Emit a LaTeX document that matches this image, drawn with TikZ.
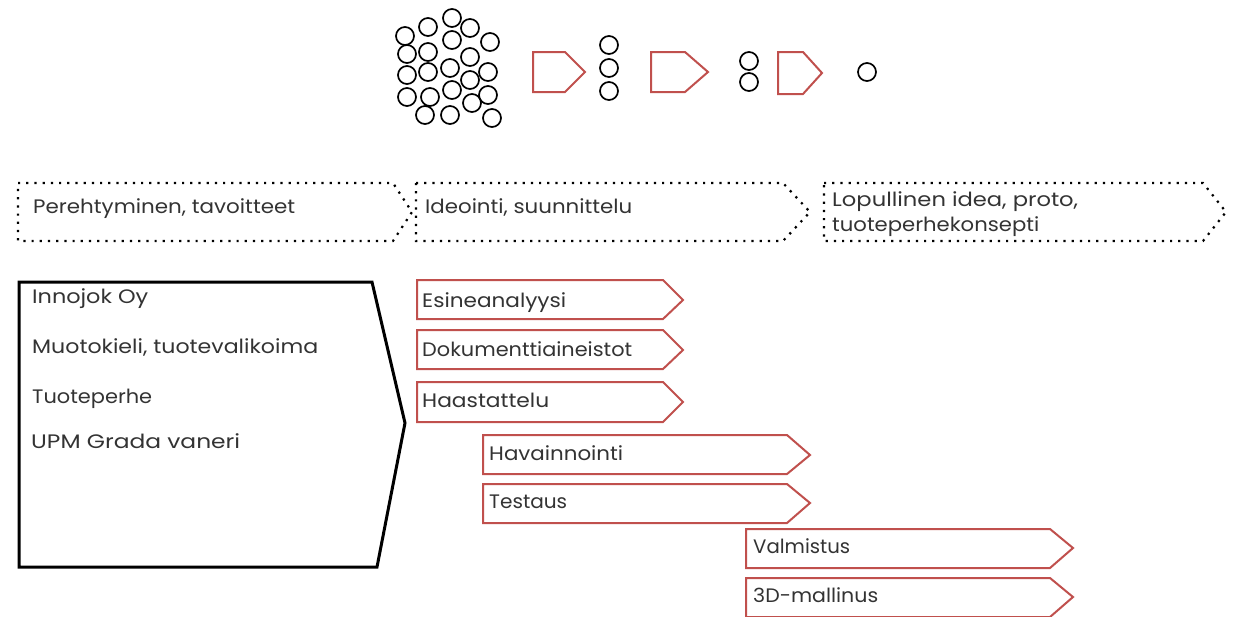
\documentclass[tikz,border=0pt]{standalone}
\usepackage{fontspec}
\usepackage{graphicx}
\setmainfont{Poppins}
\definecolor{txt}{HTML}{333333}
\definecolor{ored}{HTML}{C0504D}
\newcommand\fitw[2]{\resizebox{#1pt}{\height}{#2}}
\tikzset{
  lbl/.style={anchor=base west, inner sep=0pt, text=txt, font=\fontsize{19.5}{25}\selectfont},
  redarr/.style={draw=ored, line width=2pt, fill=white, line join=miter},
  dotarr/.style={draw=black, line width=2.2pt, dash pattern=on 2.2pt off 6pt},
  bubble/.style={draw=black, line width=1.7pt},
  leftbox/.style={draw=black, line width=3pt, line join=miter},
}
\begin{document}
\begin{tikzpicture}[x=1pt,y=-1pt]
\useasboundingbox (0,0) rectangle (1238,616);
% bubbles
\foreach \px/\py in {452/18,428/27,470/28,405/36,452/40,490/42,407/54,428/52,470/57,407/75,428/72,450/68,470/80,488/72,407/97,430/97,452/90,472/103,488/95,425/115,450/115,492/118,
 609/45,609/68,609/91, 749/61,749/82, 867/72}
  \draw[bubble] (\px,\py) circle[radius=9];
% top pentagons
\draw[redarr] (533,52) -- (565,52) -- (585,72) -- (565,92) -- (533,92) -- cycle;
\draw[redarr] (651,52) -- (685,52) -- (708,72) -- (685,92) -- (651,92) -- cycle;
\draw[redarr] (778,52) -- (803,52) -- (822,73) -- (803,94) -- (778,94) -- cycle;
% dotted chevrons
\draw[dotarr] (18,183) -- (393,183) -- (412,212) -- (393,241) -- (18,241) -- cycle;
\draw[dotarr] (416,183) -- (783,183) -- (810,212) -- (783,241) -- (416,241) -- cycle;
\draw[dotarr] (824,183) -- (1203,183) -- (1226,212) -- (1203,241) -- (824,241) -- cycle;
\node[lbl] (ph1) at (33,213) {\fitw{262}{Perehtyminen, tavoitteet}};
\node[lbl] (ph2) at (425,213) {\fitw{207}{Ideointi, suunnittelu}};
\node[lbl] (ph3a) at (832,206) {\fitw{246}{Lopullinen idea, proto,}};
\node[lbl] (ph3b) at (832,231) {\fitw{207}{tuoteperhekonsepti}};
% left box
\draw[leftbox] (19,282) -- (372,282) -- (405,423) -- (377,567) -- (19,567) -- cycle;
\node[lbl] (l1) at (32,303) {\fitw{116}{Innojok Oy}};
\node[lbl] (l2) at (32,353) {\fitw{286}{Muotokieli, tuotevalikoima}};
\node[lbl] (l3) at (32,403) {\fitw{120}{Tuoteperhe}};
\node[lbl] (l4) at (31,448) {\fitw{209}{UPM Grada vaneri}};
% red arrows
\draw[redarr] (417,280) -- (663,280) -- (683,300) -- (663,319) -- (417,319) -- cycle;
\node[lbl] (a1) at (422,307) {\fitw{144}{Esineanalyysi}};
\draw[redarr] (417,330) -- (663,330) -- (683,350) -- (663,369) -- (417,369) -- cycle;
\node[lbl] (a2) at (422,356) {\fitw{210}{Dokumenttiaineistot}};
\draw[redarr] (417,382) -- (663,382) -- (683,402) -- (663,422) -- (417,422) -- cycle;
\node[lbl] (a3) at (422,407) {\fitw{127}{Haastattelu}};
\draw[redarr] (483,435) -- (787,435) -- (810,455) -- (787,474) -- (483,474) -- cycle;
\node[lbl] (a4) at (489,460) {\fitw{134}{Havainnointi}};
\draw[redarr] (483,484) -- (787,484) -- (810,503) -- (787,523) -- (483,523) -- cycle;
\node[lbl] (a5) at (489,508) {\fitw{78}{Testaus}};
\draw[redarr] (746,529) -- (1050,529) -- (1073,548) -- (1050,568) -- (746,568) -- cycle;
\node[lbl] (a6) at (753,553) {\fitw{97}{Valmistus}};
\draw[redarr] (746,578) -- (1050,578) -- (1073,597) -- (1050,617) -- (746,617) -- cycle;
\node[lbl] (a7) at (753,602) {\fitw{125}{3D-mallinus}};
\end{tikzpicture}
\end{document}
